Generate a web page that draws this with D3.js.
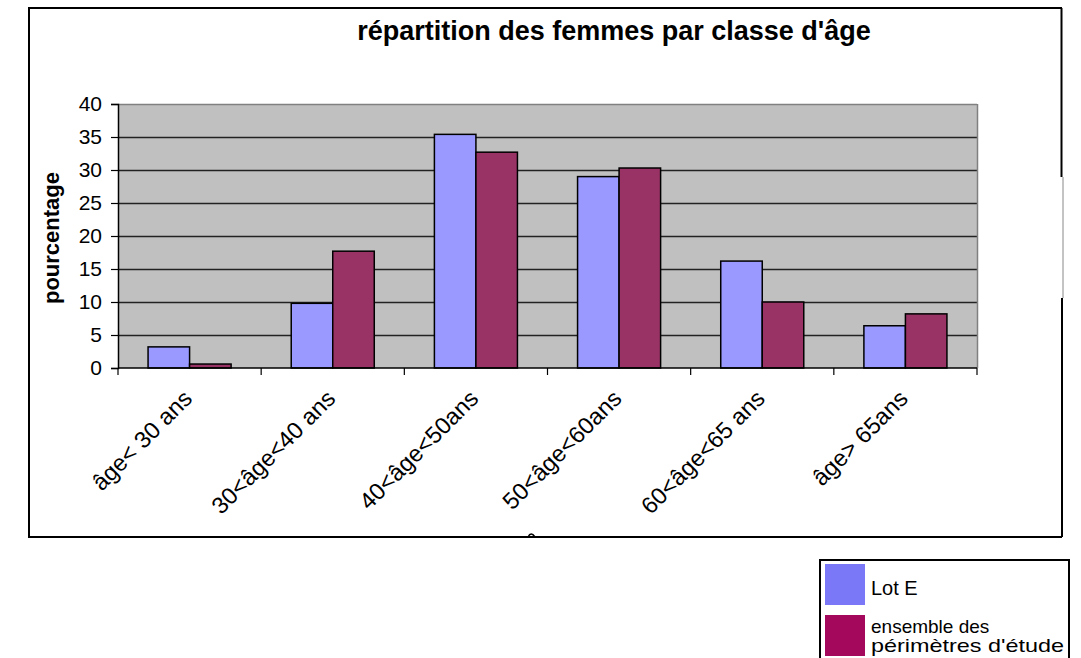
<!DOCTYPE html>
<html>
<head>
<meta charset="utf-8">
<style>
  body { margin: 0; background: #fff; }
  svg { display: block; font-family: 'Liberation Sans', Arial, sans-serif; }
</style>
</head>
<body>
<svg width="1081" height="658"></svg>
<script src="https://d3js.org/d3.v7.min.js"></script>
<script>
// data
const categories = ["âge< 30 ans", "30<âge<40 ans", "40<âge<50ans", "50<âge<60ans", "60<âge<65 ans", "âge> 65ans"];
const series = ["Lot E", "ensemble des périmètres d'étude"];
const lotE = [3.2, 9.8, 35.4, 29.0, 16.2, 6.4];
const ensemble = [0.6, 17.7, 32.7, 30.3, 10.0, 8.2];
const yTicks = [0, 5, 10, 15, 20, 25, 30, 35, 40];

const barColors = ["#9999ff", "#993366"];
const legendColors = ["#7b78f8", "#a3085c"];

const svg = d3.select("svg");

// outer frame
const frame = { x0: 29, y0: 8, x1: 1062, y1: 537 };
svg.append("path")
  .attr("d", `M${frame.x1},${frame.y0} L${frame.x0},${frame.y0} L${frame.x0},${frame.y1} L${frame.x1},${frame.y1}`)
  .attr("fill", "none").attr("stroke", "#000").attr("stroke-width", 2);
svg.append("line").attr("x1", frame.x1 - 0.5).attr("x2", frame.x1 - 0.5).attr("y1", frame.y0).attr("y2", 177)
  .attr("stroke", "#000").attr("stroke-width", 2);
svg.append("line").attr("x1", frame.x1 + 1).attr("x2", frame.x1 + 1).attr("y1", 177).attr("y2", 298)
  .attr("stroke", "#888").attr("stroke-width", 1);
svg.append("line").attr("x1", frame.x1).attr("x2", frame.x1).attr("y1", 298).attr("y2", frame.y1)
  .attr("stroke", "#000").attr("stroke-width", 2);
// little mark on the bottom edge
svg.append("path").attr("d", "M528,537 Q531,531 535,537").attr("fill", "none").attr("stroke", "#000").attr("stroke-width", 1.5);

// plot area
const plot = { left: 118, right: 977, top: 104, bottom: 368 };

const x0 = d3.scaleBand().domain(categories).range([plot.left, plot.right]);
const bw = x0.bandwidth();
const x1 = d3.scaleBand().domain(series).range([bw * 0.21, bw * 0.79]);
const y = d3.scaleLinear().domain([0, 40]).range([plot.bottom, plot.top]);

svg.append("rect")
  .attr("x", plot.left).attr("y", plot.top)
  .attr("width", plot.right - plot.left).attr("height", plot.bottom - plot.top)
  .attr("fill", "#c0c0c0");

// gridlines
svg.append("g")
  .selectAll("line")
  .data(yTicks.filter(d => d > 0))
  .join("line")
  .attr("x1", plot.left).attr("x2", plot.right)
  .attr("y1", d => y(d) + 0.5).attr("y2", d => y(d) + 0.5)
  .attr("stroke", d => d === 40 ? "#808080" : "#222")
  .attr("stroke-width", 1.3);

// right edge of plot
svg.append("line")
  .attr("x1", plot.right + 0.5).attr("x2", plot.right + 0.5)
  .attr("y1", plot.top).attr("y2", plot.bottom)
  .attr("stroke", "#808080").attr("stroke-width", 1.5);

// bars
const rows = categories.map((c, i) => ({ cat: c, vals: [lotE[i], ensemble[i]] }));
svg.append("g")
  .selectAll("g")
  .data(rows)
  .join("g")
  .attr("transform", d => `translate(${x0(d.cat)},0)`)
  .selectAll("rect")
  .data(d => d.vals.map((v, j) => ({ s: series[j], v: v, j: j })))
  .join("rect")
  .attr("x", d => x1(d.s))
  .attr("width", x1.bandwidth())
  .attr("y", d => y(d.v))
  .attr("height", d => y(0) - y(d.v))
  .attr("fill", d => barColors[d.j])
  .attr("stroke", "#000")
  .attr("stroke-width", 1.5);

// y axis
const yAxis = d3.axisLeft(y).tickValues(yTicks).tickSize(7).tickPadding(9).tickFormat(d3.format("d"));
const gy = svg.append("g").attr("transform", `translate(${plot.left},0)`).call(yAxis);
gy.select(".domain").attr("stroke", "#000").attr("stroke-width", 1.5);
gy.selectAll(".tick line").attr("stroke", "#000").attr("stroke-width", 1.2);
gy.selectAll(".tick text").attr("font-size", 21).attr("fill", "#000")
  .attr("font-family", "'Liberation Sans', Arial, sans-serif");

// x axis
const gx = svg.append("g").attr("transform", `translate(0,${plot.bottom})`);
gx.append("line").attr("x1", plot.left).attr("x2", plot.right).attr("y1", 0).attr("y2", 0)
  .attr("stroke", "#000").attr("stroke-width", 1.5);
gx.selectAll("line.tk")
  .data(categories.concat(["end"]))
  .join("line")
  .attr("class", "tk")
  .attr("x1", (d, i) => i < categories.length ? x0(d) : plot.right)
  .attr("x2", (d, i) => i < categories.length ? x0(d) : plot.right)
  .attr("y1", 0).attr("y2", 7)
  .attr("stroke", "#000").attr("stroke-width", 1.2);
gx.selectAll("text")
  .data(categories)
  .join("text")
  .attr("transform", d => `translate(${x0(d) + bw / 2 + 4},32) rotate(-45)`)
  .attr("text-anchor", "end")
  .attr("font-size", 23.5)
  .text(d => d);

// titles
svg.append("text")
  .attr("x", 614).attr("y", 40)
  .attr("text-anchor", "middle")
  .attr("font-size", 27).attr("font-weight", "bold")
  .text("répartition des femmes par classe d'âge");

svg.append("text")
  .attr("transform", "translate(59,238) rotate(-90)")
  .attr("text-anchor", "middle")
  .attr("font-size", 22).attr("font-weight", "bold")
  .text("pourcentage");

// legend (separate box under the chart)
const lg = svg.append("g").attr("transform", "translate(820,560)");
lg.append("rect").attr("x", 0).attr("y", 0).attr("width", 249).attr("height", 110)
  .attr("fill", "#fff").attr("stroke", "#000").attr("stroke-width", 2);
lg.selectAll("rect.sw")
  .data(series)
  .join("rect")
  .attr("class", "sw")
  .attr("x", 5).attr("y", (d, i) => 4 + i * 51)
  .attr("width", 40).attr("height", 41)
  .attr("fill", (d, i) => legendColors[i]);
lg.append("text").attr("x", 51).attr("y", 35).attr("font-size", 20).text(series[0]);
lg.append("text").attr("x", 51).attr("y", 73).attr("font-size", 19).text("ensemble des");
lg.append("text").attr("x", 51).attr("y", 92).attr("font-size", 19)
  .attr("textLength", 193).attr("lengthAdjust", "spacingAndGlyphs")
  .text("périmètres d'étude");
</script>
</body>
</html>
